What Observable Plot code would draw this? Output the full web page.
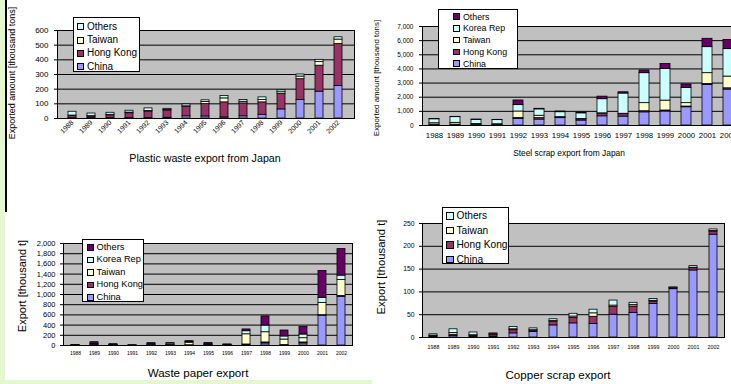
<!DOCTYPE html>
<html><head><meta charset="utf-8">
<script src="https://cdn.jsdelivr.net/npm/d3@7"></script>
<script src="https://cdn.jsdelivr.net/npm/@observablehq/plot@0.6"></script>
<style>
body{margin:0;background:#fff;font-family:"Liberation Sans",Arial,sans-serif;}
#root{position:relative;width:731px;height:384px;overflow:hidden;background:#fff;}
.abs{position:absolute;}
.t{position:absolute;white-space:nowrap;color:#000;line-height:1;}
.legend{position:absolute;background:#fff;border:1px solid #000;box-sizing:border-box;}
.sw{position:absolute;border:1px solid #000;box-sizing:border-box;}
svg{overflow:visible;}
</style>
</head><body>
<div id="root"></div>
<script>
const years = ["1988","1989","1990","1991","1992","1993","1994","1995","1996","1997","1998","1999","2000","2001","2002"];

// Plastic waste export from Japan (thousand tons)
const plasticChina    = [2,2,2,3,3,5,15,14,8,15,25,62,126,183,222];
const plasticHongKong = [15,12,20,33,45,50,63,84,102,88,85,105,142,177,286];
const plasticTaiwan   = [3,2,3,4,3,4,5,15,27,11,16,12,18,25,30];
const plasticOthers   = [26,18,14,13,18,7,13,11,16,12,18,13,14,15,16];

// Steel scrap export from Japan (thousand tons)
const steelChina    = [50,50,40,30,470,420,520,350,650,630,930,990,1290,2870,2540];
const steelHongKong = [10,10,10,10,60,100,50,90,180,170,80,70,50,70,90];
const steelTaiwan   = [100,130,60,50,460,170,20,20,30,30,570,700,240,760,830];
const steelKorea    = [280,400,290,290,450,450,350,400,1000,1430,2120,2240,1080,1840,1940];
const steelOthers   = [20,20,20,20,330,40,50,50,180,90,190,350,240,590,650];

// Waste paper export (thousand t)
const paperChina    = [1,5,2,1,2,2,2,2,2,10,40,5,40,585,955];
const paperHongKong = [1,10,5,1,3,3,3,5,2,10,20,5,20,10,15];
const paperTaiwan   = [1,10,5,0,10,10,50,10,6,200,200,107,83,240,315];
const paperKorea    = [1,10,5,1,20,25,15,8,5,60,130,60,72,100,85];
const paperOthers   = [1,30,8,0,10,5,15,25,5,35,180,117,150,525,520];

// Copper scrap export (thousand t)
const copperChina    = [1,3,2,2,9,12,26.5,31,29.5,50,54,73.5,106,147,225.5];
const copperHongKong = [2,3,2,4,7,3,8,12,16,17,14,5.5,2,5,7];
const copperTaiwan   = [1,4,1,1,2,1,1.5,3,7.5,3,3,1.5,0.5,1,1];
const copperOthers   = [3,8,6,2,5,4,4,6,8,11,5,4,1.5,3.5,3.5];

const C_CHINA="#9999ff", C_HK="#993366", C_TW="#ffffcc", C_KR="#ccffff", C_OTH_LIGHT="#ccffff", C_OTH_DARK="#660066";
const FONT = '"Liberation Sans",Arial,sans-serif';
const root = document.getElementById("root");

function addDiv(cls, css, text){
  const d=document.createElement("div"); d.className=cls; Object.assign(d.style, css);
  if(text!==undefined) d.textContent=text; root.appendChild(d); return d;
}
function addText(txt, cx, cy, size, rot){
  addDiv("t",{left:cx+"px",top:cy+"px",fontSize:size+"px",
    transform:"translate(-50%,-50%)"+(rot?" rotate(-90deg)":"")}, txt);
}
function addLegend(o){
  const box=addDiv("legend",{left:o.x+"px",top:o.y+"px",width:o.w+"px",height:o.h+"px"});
  o.items.forEach((it,i)=>{
    const cy=o.first+i*o.step;
    const s=document.createElement("div"); s.className="sw";
    Object.assign(s.style,{left:o.sx+"px",top:(cy-o.ss/2)+"px",width:o.ss+"px",height:o.ss+"px",background:it.color});
    box.appendChild(s);
    const t=document.createElement("div"); t.className="t";
    Object.assign(t.style,{left:o.tx+"px",top:cy+"px",fontSize:o.fs+"px",transform:"translateY(-50%)"});
    t.textContent=it.name; box.appendChild(t);
  });
}

function panel(o){
  const rows=[];
  o.series.forEach(s=>years.forEach((yr,i)=>rows.push({year:yr,series:s.name,value:s.values[i]})));
  const ticks=d3.range(0,o.yMax+1e-9,o.yStep);
  const chart=Plot.plot({
    width:o.width,height:o.height,
    marginTop:o.mt,marginRight:o.mr,marginBottom:o.mb,marginLeft:o.ml,
    style:{fontFamily:FONT,background:"transparent",color:"#000",overflow:"visible"},
    x:{domain:years,paddingInner:o.pad,paddingOuter:o.pad/2,label:null},
    y:{domain:[0,o.yMax],label:null},
    color:{domain:o.series.map(s=>s.name),range:o.series.map(s=>s.color)},
    marks:[
      Plot.frame({fill:"#c0c0c0",stroke:"#000",strokeWidth:1}),
      Plot.ruleY(ticks,{stroke:"#000",strokeWidth:1}),
      Plot.barY(rows,{x:"year",y:"value",fill:"series",stroke:"#000",strokeWidth:0.8}),
      Plot.axisY({ticks,tickSize:3,tickPadding:o.yPad,tickFormat:o.yFmt,fontSize:o.yFont,label:null}),
      Plot.axisX({tickSize:0,tickPadding:o.xPad,tickRotate:o.xRot||0,fontSize:o.xFont,label:null})
    ]
  });
  chart.style.position="absolute"; chart.style.left=o.left+"px"; chart.style.top=o.top+"px";
  root.appendChild(chart);
}

// page decorations
addDiv("abs",{left:"0px",top:"0px",width:"5px",height:"384px",background:"#e4f7cf"});
addDiv("abs",{left:"5px",top:"0px",width:"1.5px",height:"212px",background:"#000"});
addDiv("abs",{left:"0px",top:"380px",width:"372px",height:"4px",background:"#e4f7cf"});

const fmtComma=d3.format(",");

// Panel 1: plastic
panel({left:0,top:0,width:370,height:150,mt:30,mr:16,mb:32,ml:57,pad:0.57,
  yMax:600,yStep:100,yFmt:d=>d,yFont:8,yPad:6,xFont:7,xPad:3,xRot:-45,
  series:[{name:"China",values:plasticChina,color:C_CHINA},{name:"Hong Kong",values:plasticHongKong,color:C_HK},
          {name:"Taiwan",values:plasticTaiwan,color:C_TW},{name:"Others",values:plasticOthers,color:C_OTH_LIGHT}]});
addText("Exported amount [thousand tons]",12,73,9,true);
addText("Plastic waste export from Japan",205,158,10.7);
addLegend({x:73,y:17,w:67,h:55,first:8.7,step:13.3,sx:3,ss:7,tx:13,fs:10,
  items:[{name:"Others",color:C_OTH_LIGHT},{name:"Taiwan",color:C_TW},{name:"Hong Kong",color:C_HK},{name:"China",color:C_CHINA}]});

// Panel 2: steel
panel({left:365,top:0,width:385,height:145,mt:26,mr:10,mb:20,ml:57,pad:0.53,
  yMax:7000,yStep:1000,yFmt:fmtComma,yFont:6.5,yPad:6,xFont:7.8,xPad:7,
  series:[{name:"China",values:steelChina,color:C_CHINA},{name:"Hong Kong",values:steelHongKong,color:C_HK},
          {name:"Taiwan",values:steelTaiwan,color:C_TW},{name:"Korea Rep",values:steelKorea,color:C_KR},
          {name:"Others",values:steelOthers,color:C_OTH_DARK}]});
addText("Exported amount [thousand tons]",377,78,7.9,true);
addText("Steel scrap export from Japan",569,153,8.4);
addLegend({x:438,y:9,w:80,h:60,first:6.7,step:11.75,sx:14,ss:6.5,tx:24,fs:8.8,
  items:[{name:"Others",color:C_OTH_DARK},{name:"Korea Rep",color:C_KR},{name:"Taiwan",color:C_TW},{name:"Hong Kong",color:C_HK},{name:"China",color:C_CHINA}]});

// Panel 3: waste paper
panel({left:0,top:230,width:370,height:135,mt:13,mr:18,mb:20,ml:63,pad:0.6,
  yMax:2000,yStep:200,yFmt:fmtComma,yFont:7.5,yPad:5,xFont:5,xPad:6,
  series:[{name:"China",values:paperChina,color:C_CHINA},{name:"Hong Kong",values:paperHongKong,color:C_HK},
          {name:"Taiwan",values:paperTaiwan,color:C_TW},{name:"Korea Rep",values:paperKorea,color:C_KR},
          {name:"Others",values:paperOthers,color:C_OTH_DARK}]});
addText("Export [thousand t]",22,286,11,true);
addText("Waste paper export",198,373,11.6);
addLegend({x:82,y:239,w:62,h:63,first:7.7,step:12.5,sx:4,ss:6.5,tx:13.5,fs:9.3,
  items:[{name:"Others",color:C_OTH_DARK},{name:"Korea Rep",color:C_KR},{name:"Taiwan",color:C_TW},{name:"Hong Kong",color:C_HK},{name:"China",color:C_CHINA}]});

// Panel 4: copper
panel({left:365,top:210,width:366,height:150,mt:13,mr:7,mb:23,ml:57,pad:0.58,
  yMax:250,yStep:50,yFmt:d=>d,yFont:6.8,yPad:5,xFont:5.3,xPad:8,
  series:[{name:"China",values:copperChina,color:C_CHINA},{name:"Hong Kong",values:copperHongKong,color:C_HK},
          {name:"Taiwan",values:copperTaiwan,color:C_TW},{name:"Others",values:copperOthers,color:C_OTH_LIGHT}]});
addText("Export [thousand t]",382,267,11.3,true);
addText("Copper scrap export",558,375,11.6);
addLegend({x:442,y:207,w:67,h:57,first:8,step:14.5,sx:3,ss:7.5,tx:13.5,fs:10.2,
  items:[{name:"Others",color:C_OTH_LIGHT},{name:"Taiwan",color:C_TW},{name:"Hong Kong",color:C_HK},{name:"China",color:C_CHINA}]});
</script>
</body></html>
